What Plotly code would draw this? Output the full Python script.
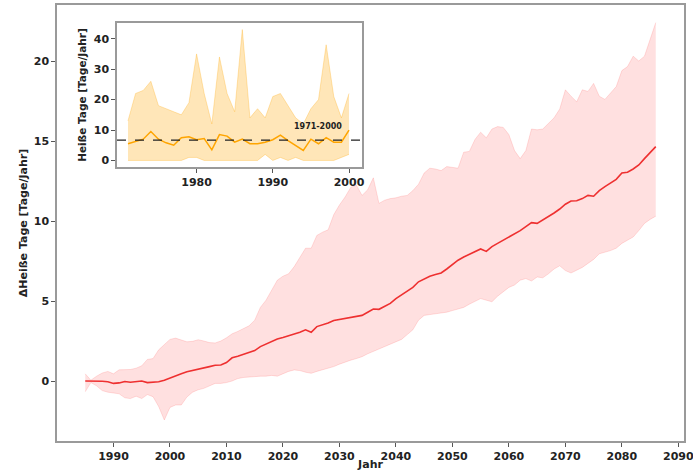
import plotly.graph_objects as go

# ---------------- main series (ΔHeiße Tage) ----------------
years = list(range(1985, 2087))
mean_delta = [
    0.00, 0.00, 0.00, -0.02, -0.05, -0.15, -0.12, -0.03, -0.08, -0.02,
    0.00, -0.10, -0.08, -0.05, 0.05, 0.20, 0.35, 0.45, 0.58, 0.65,
    0.75, 0.82, 0.90, 0.98, 1.00, 1.15, 1.45, 1.55, 1.68, 1.80,
    1.90, 2.15, 2.30, 2.50, 2.62, 2.72, 2.82, 2.92, 3.05, 3.20,
    3.05, 3.40, 3.50, 3.62, 3.78, 3.85, 3.92, 4.00, 4.05, 4.10,
    4.30, 4.50, 4.48, 4.65, 4.85, 5.15, 5.40, 5.65, 5.85, 6.20,
    6.40, 6.55, 6.65, 6.75, 7.00, 7.30, 7.55, 7.75, 7.90, 8.05,
    8.25, 8.10, 8.40, 8.60, 8.80, 9.00, 9.15, 9.40, 9.65, 9.90,
    9.85, 10.05, 10.25, 10.50, 10.75, 11.05, 11.25, 11.27, 11.40, 11.60,
    11.55, 11.90, 12.15, 12.40, 12.60, 13.00, 13.05, 13.25, 13.50, 13.90,
    14.30, 14.65,
]
upper_delta = [
    0.45, 0.05, 0.30, 0.50, 0.60, 0.45, 0.70, 0.72, 0.72, 0.80,
    0.95, 1.35, 1.40, 1.95, 2.25, 2.60, 2.68, 2.55, 2.45, 2.48,
    2.58, 2.50, 2.40, 2.38, 2.50, 2.70, 2.95, 3.10, 3.25, 3.45,
    3.80, 4.60, 5.05, 5.70, 6.30, 6.55, 6.70, 7.15, 7.70, 8.30,
    8.30, 9.10, 9.30, 9.45, 10.40, 11.00, 11.50, 12.10, 12.25, 11.60,
    11.95, 12.70, 11.10, 11.30, 11.40, 11.45, 11.55, 11.60, 11.90, 12.30,
    13.00, 13.30, 13.25, 13.15, 13.40, 13.35, 13.30, 14.30, 14.35, 15.10,
    15.55, 15.20, 15.75, 15.90, 15.85, 15.40, 14.40, 13.90, 14.40, 15.75,
    15.70, 15.75, 16.10, 16.45, 17.00, 18.20, 17.80, 17.45, 18.20, 18.10,
    18.60, 17.80, 17.60, 18.00, 18.40, 19.40, 19.65, 20.30, 20.00, 20.30,
    21.30, 22.40,
]
lower_delta = [
    -0.67, -0.10, -0.30, -0.60, -0.70, -0.77, -0.80, -1.05, -1.10, -0.95,
    -1.10, -0.85, -0.98, -1.60, -2.44, -1.65, -1.50, -1.50, -1.00, -0.70,
    -0.55, -0.46, -0.30, -0.15, -0.15, -0.10, 0.00, 0.15, 0.22, 0.25,
    0.31, 0.30, 0.30, 0.35, 0.30, 0.45, 0.60, 0.69, 0.65, 0.55,
    0.48, 0.60, 0.70, 0.79, 0.90, 1.05, 1.20, 1.30, 1.40, 1.52,
    1.70, 1.85, 2.00, 2.10, 2.30, 2.45, 2.60, 2.90, 3.20, 3.80,
    4.10, 4.15, 4.20, 4.25, 4.30, 4.40, 4.50, 4.60, 4.80, 4.95,
    5.15, 5.05, 4.95, 5.30, 5.60, 5.85, 6.00, 6.30, 6.40, 6.25,
    6.50, 6.45, 6.70, 7.00, 7.20, 6.90, 6.75, 6.90, 7.10, 7.35,
    7.60, 7.95, 8.05, 8.15, 8.30, 8.60, 8.80, 9.00, 9.40, 9.85,
    10.10, 10.30,
]

# ---------------- inset series (Heiße Tage 1971-2000) ----------------
inset_years = list(range(1971, 2001))
inset_mean = [
    5.5, 6.2, 7.0, 9.5, 7.0, 5.8, 5.0, 7.5, 7.8, 6.8,
    7.2, 3.5, 8.5, 8.0, 6.0, 7.0, 5.5, 5.5, 6.0, 6.8,
    8.3, 6.5, 4.8, 3.3, 7.0, 5.5, 7.5, 6.0, 6.0, 10.0,
]
inset_upper = [
    13, 22, 23, 26, 18, 17, 16, 15, 19, 35,
    22, 12, 34, 22, 16, 43, 14, 17, 14, 21,
    22, 18, 14, 12, 17, 20, 38, 21, 14, 22,
]
inset_lower = [
    0, 0, 0, 0, 0, 0, 0, 0, 1, 1,
    0, 0, 0, 0, 0, 0, 0, 0, 2, 0,
    1, 0, 1, 0, 0, 0, 0, 0, 1, 2,
]
ref_level = 6.7
ref_label = "1971-2000"

main_xticks = [1990, 2000, 2010, 2020, 2030, 2040, 2050, 2060, 2070, 2080, 2090]
main_yticks = [0, 5, 10, 15, 20]
inset_xticks = [1980, 1990, 2000]
inset_yticks = [0, 10, 20, 30, 40]

FONT = "DejaVu Sans"
TICKFONT = dict(family=FONT, size=11, color="#222222", weight="bold")
TITLEFONT = dict(family=FONT, size=11, color="#222222", weight="bold")
FRAME = "#9a9a9a"

fig = go.Figure()

# main band
fig.add_trace(go.Scatter(x=years, y=lower_delta, mode="lines",
                         line=dict(color="rgba(255,0,0,0.12)", width=1),
                         showlegend=False, hoverinfo="skip"))
fig.add_trace(go.Scatter(x=years, y=upper_delta, mode="lines", fill="tonexty",
                         fillcolor="rgba(255,0,0,0.12)",
                         line=dict(color="rgba(255,0,0,0.12)", width=1),
                         showlegend=False, hoverinfo="skip"))
fig.add_trace(go.Scatter(x=years, y=mean_delta, mode="lines",
                         line=dict(color="rgb(238,48,48)", width=1.6),
                         showlegend=False))

# inset band
fig.add_trace(go.Scatter(x=inset_years, y=inset_lower, mode="lines",
                         line=dict(color="rgba(255,165,0,0.28)", width=1),
                         xaxis="x2", yaxis="y2", showlegend=False, hoverinfo="skip"))
fig.add_trace(go.Scatter(x=inset_years, y=inset_upper, mode="lines", fill="tonexty",
                         fillcolor="rgba(255,165,0,0.28)",
                         line=dict(color="rgba(255,165,0,0.28)", width=1),
                         xaxis="x2", yaxis="y2", showlegend=False, hoverinfo="skip"))
fig.add_trace(go.Scatter(x=inset_years, y=inset_mean, mode="lines",
                         line=dict(color="#FFA500", width=1.5),
                         xaxis="x2", yaxis="y2", showlegend=False))

# reference dashed line in inset
fig.add_shape(type="line", xref="x2 domain", yref="y2", x0=0, x1=1,
              y0=ref_level, y1=ref_level,
              line=dict(color="#222222", width=1.3, dash="dash"))
fig.add_annotation(xref="x2", yref="y2", x=1995.9, y=11.0, text=ref_label,
                   showarrow=False, font=dict(family=FONT, size=8, color="#222222", weight="bold"))

axis_common = dict(showgrid=False, zeroline=False, showline=True, linecolor=FRAME,
                   linewidth=1.5, mirror=True, ticks="outside", ticklen=4,
                   tickcolor="#555555", tickwidth=1, tickfont=TICKFONT,
                   ticklabeloverflow="allow")

fig.update_layout(
    width=693, height=471,
    margin=dict(l=57, r=9, t=5, b=30),
    paper_bgcolor="white", plot_bgcolor="white",
    xaxis=dict(range=[1980.0, 2091.0], tickvals=main_xticks, automargin=False,
               title=dict(text="Jahr", font=TITLEFONT, standoff=0), **axis_common),
    yaxis=dict(range=[-3.75, 23.5], tickvals=main_yticks, automargin=False,
               title=dict(text="ΔHeiße Tage [Tage/Jahr]", font=TITLEFONT, standoff=4),
               **axis_common),
    xaxis2=dict(domain=[0.0957, 0.4864], anchor="y2", range=[1969.56, 2001.7],
                tickvals=inset_xticks, automargin=False, **axis_common),
    yaxis2=dict(domain=[0.6284, 0.9587], anchor="x2", range=[-2.15, 45.15],
                tickvals=inset_yticks, automargin=False,
                title=dict(text="Heiße Tage [Tage/Jahr]", font=dict(family=FONT, size=10.5, color="#222222", weight="bold"), standoff=5),
                **axis_common),
)

fig.write_html("out.html", config={"displayModeBar": False},
               post_script="document.body.style.margin='0';")
